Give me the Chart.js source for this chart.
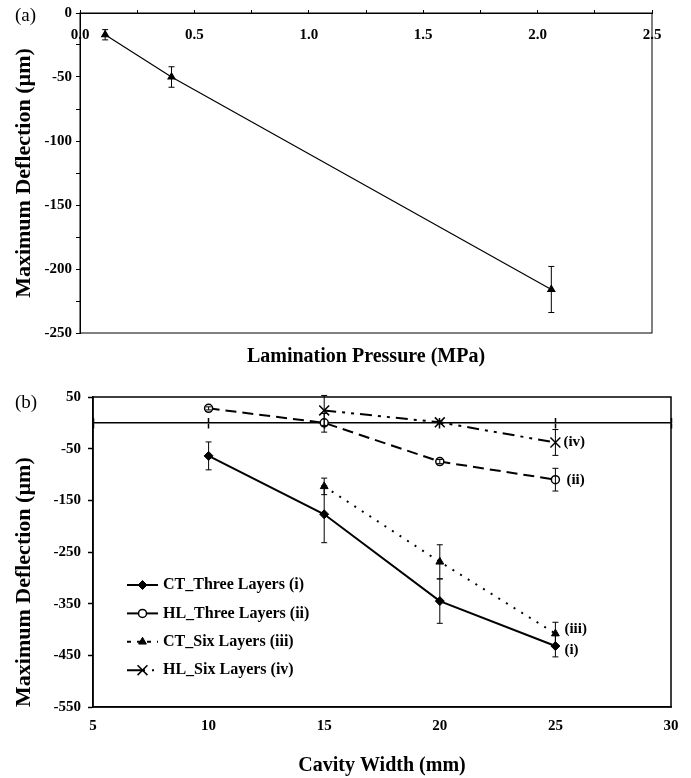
<!DOCTYPE html>
<html>
<head>
<meta charset="utf-8">
<script src="https://cdn.jsdelivr.net/npm/chart.js@4.4.0/dist/chart.umd.min.js"></script>
<style>
  html, body { margin: 0; padding: 0; background: #fff; }
  #wrap { position: relative; width: 691px; height: 778px; }
  .panel { position: absolute; left: 0; width: 691px; }
  #boxA { top: 0; height: 375px; }
  #boxB { top: 375px; height: 403px; }
  .tag { position: absolute; left: 15px; font-family: "Liberation Serif", serif; font-size: 19px; line-height: 20px; }
</style>
</head>
<body>
<div id="wrap">
  <div class="panel" id="boxA"><canvas id="chartA"></canvas></div>
  <div class="panel" id="boxB"><canvas id="chartB"></canvas></div>
  <div class="tag" style="top:5px">(a)</div>
  <div class="tag" style="top:392px">(b)</div>
</div>
<script>
// (a) deflection vs lamination pressure
const pressure = [0.11, 0.4, 2.06];
const deflection = [-17, -50, -216];
const deflectionErr = [4, 8, 18];

// (b) deflection vs cavity width
const widths = [10, 15, 20, 25];
const ctThree = [-64, -177, -345, -432];
const ctThreeErr = [27, 55, 43, 21];
const hlThree = [28, 0, -75, -110];
const hlThreeErr = [3, 18, 4, 22];
const ctSix = [null, -123, -269, -408];
const ctSixErr = [null, 16, 33, 22];
const hlSix = [null, 24, 1, -38];
const hlSixErr = [null, 29, 3, 25];

Chart.defaults.font.family = '"Liberation Serif", serif';
Chart.defaults.font.weight = 'bold';
Chart.defaults.color = '#000';

function points(xs, ys, errs) {
    return xs.map(function(x, i) {
        return { x: x, y: ys[i], e: errs[i] };
    }).filter(function(p) { return p.y !== null; });
}

// vertical error bars with caps, in the y scale of each chart
const errorBars = {
    id: 'errorBars',
    afterDatasetsDraw: function(chart) {
        const ctx = chart.ctx;
        const y = chart.scales.y;
        chart.data.datasets.forEach(function(ds, i) {
            const meta = chart.getDatasetMeta(i);
            const cap = ds.capWidth || 3;
            ctx.save();
            ctx.strokeStyle = '#000';
            ctx.lineWidth = ds.errWidth || 1;
            ctx.setLineDash([]);
            ds.data.forEach(function(p, j) {
                if (p.e == null) return;
                const px = meta.data[j].x;
                const top = y.getPixelForValue(p.y + p.e);
                const bot = y.getPixelForValue(p.y - p.e);
                ctx.beginPath();
                ctx.moveTo(px, top); ctx.lineTo(px, bot);
                ctx.moveTo(px - cap, top); ctx.lineTo(px + cap, top);
                ctx.moveTo(px - cap, bot); ctx.lineTo(px + cap, bot);
                ctx.stroke();
            });
            ctx.restore();
        });
    }
};

// plot box
const frame = {
    id: 'frame',
    beforeDatasetsDraw: function(chart, args, opts) {
        const a = chart.chartArea;
        const ctx = chart.ctx;
        ctx.save();
        ctx.strokeStyle = '#000';
        ctx.lineWidth = opts.width || 1;
        ctx.strokeRect(a.left, a.top, a.right - a.left, a.bottom - a.top);
        ctx.restore();
    }
};

// (i)...(iv) next to the last point of each series
const endTags = {
    id: 'endTags',
    afterDatasetsDraw: function(chart) {
        const ctx = chart.ctx;
        ctx.save();
        ctx.font = 'bold 15px "Liberation Serif"';
        ctx.fillStyle = '#000';
        ctx.textBaseline = 'middle';
        chart.data.datasets.forEach(function(ds, i) {
            if (!ds.tag) return;
            const meta = chart.getDatasetMeta(i);
            const last = meta.data[meta.data.length - 1];
            ctx.fillText(ds.tag, last.x + ds.tagOffset[0], last.y + ds.tagOffset[1]);
        });
        ctx.restore();
    }
};

// legend box in the lower left of chart (b)
const lineLegend = {
    id: 'lineLegend',
    afterDraw: function(chart, args, opts) {
        const ctx = chart.ctx;
        ctx.save();
        ctx.font = 'bold 16px "Liberation Serif"';
        ctx.textBaseline = 'middle';
        chart.data.datasets.forEach(function(ds, i) {
            const y = opts.top + i * opts.rowGap;
            ctx.strokeStyle = '#000';
            ctx.lineWidth = 2;
            ctx.setLineDash(ds.legendDash || ds.borderDash || []);
            ctx.beginPath();
            ctx.moveTo(opts.left, y);
            ctx.lineTo(opts.left + opts.lineLen, y);
            ctx.stroke();
            ctx.setLineDash([]);
            ctx.fillStyle = ds.pointBackgroundColor;
            ctx.strokeStyle = '#000';
            ctx.lineWidth = ds.pointBorderWidth;
            Chart.helpers.drawPoint(ctx, {
                pointStyle: ds.pointStyle,
                radius: ds.pointRadius,
                borderWidth: ds.pointBorderWidth,
                rotation: 0
            }, opts.left + opts.lineLen / 2, y);
            ctx.fillStyle = '#000';
            ctx.fillText(ds.label, opts.left + opts.lineLen + 5, y);
        });
        ctx.restore();
    }
};

function isHalf(v) {
    return Math.abs(v * 2 - Math.round(v * 2)) < 1e-6;
}

new Chart(document.getElementById('chartA'), {
    type: 'line',
    data: {
        datasets: [{
            data: points(pressure, deflection, deflectionErr),
            borderColor: '#000',
            borderWidth: 1.2,
            pointStyle: 'triangle',
            pointRadius: 4,
            pointBackgroundColor: '#000',
            pointBorderColor: '#000',
            capWidth: 3,
            errWidth: 1
        }]
    },
    options: {
        responsive: true,
        maintainAspectRatio: false,
        animation: false,
        layout: { padding: { top: 13, right: 39, left: 0, bottom: 0 } },
        plugins: {
            legend: { display: false },
            tooltip: { enabled: false },
            frame: { width: 1 }
        },
        scales: {
            x: {
                type: 'linear',
                min: 0,
                max: 2.5,
                position: { y: 0 },
                grid: { drawOnChartArea: false, tickLength: -4, tickColor: '#000' },
                border: { color: '#000', width: 1 },
                ticks: {
                    stepSize: 0.25,
                    autoSkip: false,
                    maxRotation: 0,
                    padding: 17,
                    font: { size: 15, weight: 'bold' },
                    callback: function(v) { return isHalf(v) ? v.toFixed(1) : ''; }
                }
            },
            // holds only the axis title under the plot
            xt: {
                type: 'linear',
                min: 0,
                max: 2.5,
                position: 'bottom',
                afterFit: function(s) { s.height = 42; },
                grid: { display: false },
                border: { display: false },
                ticks: { display: false },
                title: {
                    display: true,
                    text: 'Lamination Pressure (MPa)',
                    font: { size: 20, weight: 'bold' },
                    padding: { top: 0, bottom: 6 }
                }
            },
            y: {
                min: -250,
                max: 0,
                afterFit: function(s) { s.width = 80; },
                grid: { drawOnChartArea: false, tickLength: 4, tickColor: '#000' },
                border: { color: '#000', width: 1 },
                ticks: {
                    stepSize: 25,
                    padding: 4,
                    font: { size: 15, weight: 'bold' },
                    callback: function(v) { return v % 50 === 0 ? String(v) : ''; }
                },
                title: {
                    display: true,
                    text: 'Maximum Deflection (µm)',
                    font: { size: 22, weight: 'bold' },
                    padding: { top: 11, bottom: 0 }
                }
            }
        }
    },
    plugins: [frame, errorBars]
});

new Chart(document.getElementById('chartB'), {
    type: 'line',
    data: {
        datasets: [{
            label: 'CT_Three Layers (i)',
            data: points(widths, ctThree, ctThreeErr),
            borderColor: '#000',
            borderWidth: 2,
            pointStyle: 'rectRot',
            pointRadius: 4.5,
            pointBorderWidth: 1,
            pointBackgroundColor: '#000',
            pointBorderColor: '#000',
            tag: '(i)',
            tagOffset: [9, 4]
        }, {
            label: 'HL_Three Layers (ii)',
            data: points(widths, hlThree, hlThreeErr),
            borderColor: '#000',
            borderWidth: 2,
            borderDash: [11, 6],
            legendDash: [],
            pointStyle: 'circle',
            pointRadius: 4,
            pointBorderWidth: 1.5,
            pointBackgroundColor: '#fff',
            pointBorderColor: '#000',
            tag: '(ii)',
            tagOffset: [11, 0]
        }, {
            label: 'CT_Six Layers (iii)',
            data: points(widths, ctSix, ctSixErr),
            borderColor: '#000',
            borderWidth: 2,
            borderDash: [2, 7],
            legendDash: [4, 6],
            pointStyle: 'triangle',
            pointRadius: 4.5,
            pointBorderWidth: 1,
            pointBackgroundColor: '#000',
            pointBorderColor: '#000',
            tag: '(iii)',
            tagOffset: [9, -5]
        }, {
            label: 'HL_Six Layers (iv)',
            data: points(widths, hlSix, hlSixErr),
            borderColor: '#000',
            borderWidth: 2,
            borderDash: [12, 6, 3, 6, 3, 6],
            legendDash: [18, 7, 2, 7],
            pointStyle: 'crossRot',
            pointRadius: 7,
            pointBorderWidth: 1.5,
            pointBackgroundColor: '#000',
            pointBorderColor: '#000',
            tag: '(iv)',
            tagOffset: [8, 0]
        }]
    },
    options: {
        responsive: true,
        maintainAspectRatio: false,
        animation: false,
        layout: { padding: { top: 22, right: 20, left: 0, bottom: 0 } },
        plugins: {
            legend: { display: false },
            tooltip: { enabled: false },
            frame: { width: 1.5 },
            lineLegend: { left: 127, top: 210, rowGap: 28.4, lineLen: 31 }
        },
        scales: {
            x: {
                type: 'linear',
                min: 5,
                max: 30,
                position: 'bottom',
                afterFit: function(s) { s.height = 71; },
                grid: { drawOnChartArea: false, drawTicks: false },
                border: { color: '#000', width: 1.5 },
                ticks: { stepSize: 5, padding: 10, maxRotation: 0, font: { size: 15, weight: 'bold' } },
                title: {
                    display: true,
                    text: 'Cavity Width (mm)',
                    font: { size: 20, weight: 'bold' },
                    padding: { top: 0, bottom: 0 }
                }
            },
            xz: {
                type: 'linear',
                min: 5,
                max: 30,
                position: { y: 0 },
                grid: { drawOnChartArea: false, tickLength: 5, tickColor: '#000', tickWidth: 1.5 },
                border: { color: '#000', width: 1.5 },
                ticks: { stepSize: 5, display: false }
            },
            xu: {
                type: 'linear',
                min: 5,
                max: 30,
                position: { y: 0 },
                grid: { drawOnChartArea: false, tickLength: -5, tickColor: '#000', tickWidth: 1.5 },
                border: { display: false },
                ticks: { stepSize: 5, display: false }
            },
            y: {
                min: -550,
                max: 50,
                afterFit: function(s) { s.width = 93; },
                grid: { drawOnChartArea: false, tickLength: 5, tickColor: '#000', tickWidth: 1.5 },
                border: { color: '#000', width: 1.5 },
                ticks: { stepSize: 100, padding: 7, font: { size: 15, weight: 'bold' } },
                title: {
                    display: true,
                    align: 'start',
                    text: 'Maximum Deflection (µm)',
                    font: { size: 22, weight: 'bold' },
                    padding: { top: 11, bottom: 0 }
                }
            }
        }
    },
    plugins: [frame, errorBars, endTags, lineLegend]
});
</script>
</body>
</html>
